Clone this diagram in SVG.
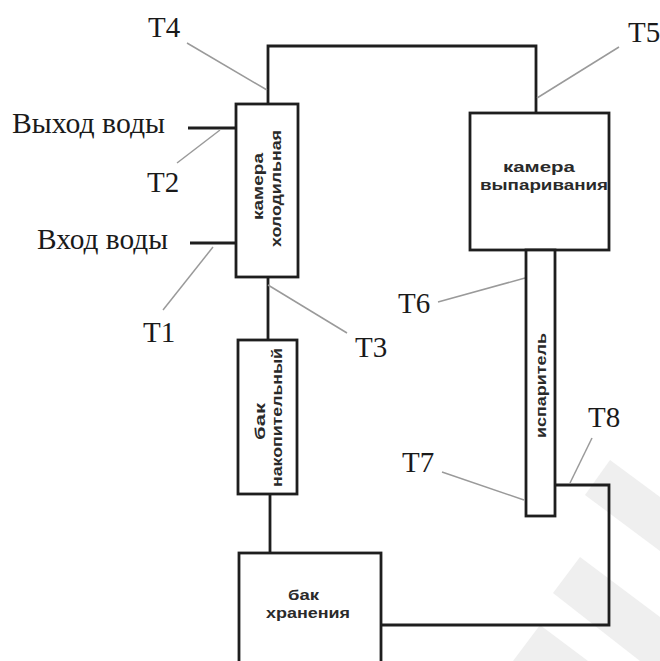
<svg xmlns="http://www.w3.org/2000/svg" width="660" height="661" viewBox="0 0 660 661">
<style>
.box{fill:#fff;stroke:#1e1e1e;stroke-width:2.8}
.pipe{fill:none;stroke:#1e1e1e;stroke-width:2.8}
.lead{fill:none;stroke:#9a9a9a;stroke-width:1.5}
.lbl{font-family:"Liberation Serif","Times New Roman",serif;font-size:29px;fill:#1a1a1a}
.in{font-family:"Liberation Sans",Arial,sans-serif;font-size:15px;font-weight:bold;fill:#2a2a2a;text-anchor:middle}
.wm{fill:#efefef}
</style>
<rect width="660" height="661" fill="#fff"/>
<g id="watermark">
<polygon class="wm" points="610,460 660,497 660,551 585,495"/>
<polygon class="wm" points="580,557 660,617 660,661 640,661 553,593"/>
<polygon class="wm" points="540,625 588,661 513,661"/>
</g>
<g id="connectors">
<path class="pipe" d="M268,104 V46 H536 V113"/>
<path class="pipe" d="M188,128 H236"/>
<path class="pipe" d="M190,243 H236"/>
<path class="pipe" d="M268,277 V340"/>
<path class="pipe" d="M270,494 V553"/>
<path class="pipe" d="M555,485 H609 V625 H381"/>
<line class="lead" x1="187" y1="43" x2="267" y2="90"/>
<line class="lead" x1="177" y1="163" x2="220" y2="130"/>
<line class="lead" x1="163" y1="310" x2="213" y2="247"/>
<line class="lead" x1="268" y1="285" x2="347" y2="333"/>
<line class="lead" x1="619" y1="47" x2="537" y2="98"/>
<line class="lead" x1="438" y1="302" x2="525" y2="278"/>
<line class="lead" x1="442" y1="472" x2="524" y2="500"/>
<line class="lead" x1="592" y1="438" x2="570" y2="483"/>
</g>
<g id="cold-chamber">
<rect class="box" x="236" y="104" width="62" height="173"/>
<text class="in" transform="translate(263,186.5) rotate(-90)" textLength="67" lengthAdjust="spacingAndGlyphs">камера</text>
<text class="in" transform="translate(281,188.5) rotate(-90)" textLength="117" lengthAdjust="spacingAndGlyphs">холодильная</text>
</g>
<g id="evap-chamber">
<rect class="box" x="470" y="113" width="139" height="137"/>
<text class="in" x="539" y="172" textLength="72" lengthAdjust="spacingAndGlyphs">камера</text>
<text class="in" x="544" y="190" textLength="128" lengthAdjust="spacingAndGlyphs">выпаривания</text>
</g>
<g id="evaporator">
<rect class="box" x="526" y="250" width="29" height="266"/>
<text class="in" transform="translate(546,385.5) rotate(-90)" textLength="105" lengthAdjust="spacingAndGlyphs">испаритель</text>
</g>
<g id="accum-tank">
<rect class="box" x="238" y="340" width="59" height="154"/>
<text class="in" transform="translate(265,421.5) rotate(-90)" textLength="37" lengthAdjust="spacingAndGlyphs">бак</text>
<text class="in" transform="translate(282,417.5) rotate(-90)" textLength="139" lengthAdjust="spacingAndGlyphs">накопительный</text>
</g>
<g id="storage-tank">
<rect class="box" x="239" y="553" width="142" height="125"/>
<text class="in" x="303.5" y="600" textLength="31" lengthAdjust="spacingAndGlyphs">бак</text>
<text class="in" x="308" y="618" textLength="84" lengthAdjust="spacingAndGlyphs">хранения</text>
</g>
<g id="labels">
<text class="lbl" x="12" y="133" textLength="153" lengthAdjust="spacingAndGlyphs">Выход воды</text>
<text class="lbl" x="37" y="249" textLength="131" lengthAdjust="spacingAndGlyphs">Вход воды</text>
<text class="lbl" x="148" y="37">T4</text>
<text class="lbl" x="147" y="192">T2</text>
<text class="lbl" x="143" y="342">T1</text>
<text class="lbl" x="355" y="357">T3</text>
<text class="lbl" x="628" y="42">T5</text>
<text class="lbl" x="398" y="313">T6</text>
<text class="lbl" x="402" y="472">T7</text>
<text class="lbl" x="588" y="427">T8</text>
</g>
</svg>
